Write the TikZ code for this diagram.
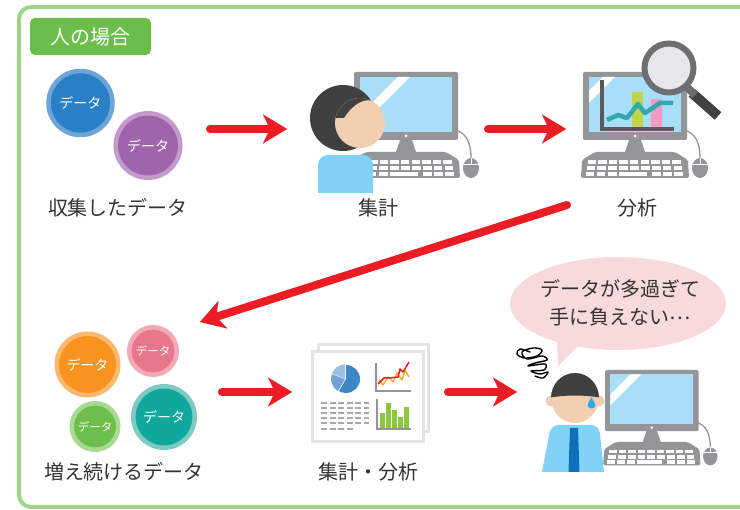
\documentclass[tikz,border=0pt]{standalone}
\usepackage{fontspec}
\setmainfont{Noto Sans CJK JP}
\usetikzlibrary{arrows.meta}

\definecolor{framegreen}{RGB}{158,212,136}
\definecolor{taggreen}{RGB}{108,190,75}
\definecolor{ink}{RGB}{51,51,51}
\definecolor{flowred}{RGB}{236,28,36}
\definecolor{pcgray}{RGB}{147,149,152}
\definecolor{screenblue}{RGB}{168,222,247}
\definecolor{hair}{RGB}{64,64,65}
\definecolor{skin}{RGB}{242,207,177}
\definecolor{shirt}{RGB}{128,211,245}
\definecolor{tieblue}{RGB}{14,112,185}
\definecolor{sweat}{RGB}{41,171,226}
\definecolor{bubble}{RGB}{248,218,220}
\definecolor{dblue}{RGB}{41,128,196}
\definecolor{dbluering}{RGB}{111,164,216}
\definecolor{dpurple}{RGB}{160,100,172}
\definecolor{dpurplering}{RGB}{194,154,203}
\definecolor{dorange}{RGB}{247,147,30}
\definecolor{dorangering}{RGB}{251,184,112}
\definecolor{dpink}{RGB}{232,119,139}
\definecolor{dpinkring}{RGB}{241,170,182}
\definecolor{dgreen}{RGB}{109,190,75}
\definecolor{dgreenring}{RGB}{168,218,146}
\definecolor{dteal}{RGB}{16,168,157}
\definecolor{dtealring}{RGB}{127,202,195}
\definecolor{axisdark}{RGB}{88,89,91}
\definecolor{barlime}{RGB}{192,212,72}
\definecolor{barpink}{RGB}{245,154,192}
\definecolor{trendteal}{RGB}{47,168,176}
\definecolor{ringgray}{RGB}{109,110,113}
\definecolor{lensfill}{RGB}{230,231,232}
\definecolor{handledark}{RGB}{65,64,66}
\definecolor{pageedge}{RGB}{227,228,229}
\definecolor{dashgray}{RGB}{167,169,172}
\definecolor{pie1}{RGB}{61,135,200}
\definecolor{pie2}{RGB}{111,163,214}
\definecolor{pie3}{RGB}{157,191,227}
\definecolor{chartred}{RGB}{237,28,36}
\definecolor{chartorange}{RGB}{247,168,27}
\definecolor{bargreen}{RGB}{141,198,63}

\tikzset{
  lbl/.style={font=\fontsize{20}{24}\selectfont, text=ink, inner sep=0pt},
  datum/.style={circle, line width=4.5pt, text=white, inner sep=0pt,
                font=\fontsize{14}{16}\selectfont},
  flow/.style={draw=flowred, line width=8pt, line cap=round,
               -{Stealth[length=24pt,width=29pt,inset=7pt,line width=0.01pt]}},
  % desktop computer: origin at the monitor's top left corner, #1 = stripe offset
  pics/desktop/.style={code={
    \draw[pcgray, line width=1.3pt] (100,58) .. controls (113,60) and (117,72) .. (117,86);
    \fill[pcgray, rounded corners=2pt] (0,0) rectangle (104,68);
    \fill[screenblue] (6,5) rectangle (98,60);
    \fill[white] (#1,5) -- ({#1+12},5) -- (6,{#1+11}) -- (6,{#1-1}) -- cycle;
    \fill[white] (52,64) circle (1.5);
    \fill[pcgray] (46,68) -- (58,68) -- (62,80) -- (42,80) -- cycle;
    \fill[pcgray, rounded corners=2pt] (12,80) -- (92,80) -- (105,88) -- (106,106)
          -- (-2,106) -- (-1,88) -- cycle;
    \foreach \i in {0,...,8} {
      \fill[white] ({4.5+\i*10.6},88.5) rectangle ++(8.4,4);
      \fill[white] ({3.5+\i*10.9},94.5) rectangle ++(8.6,4);
    }
    \foreach \i in {0,1,2,6,7,8}
      \fill[white] ({2.5+\i*11.1},100.5) rectangle ++(8.8,4);
    \fill[white] (35.8,100.5) rectangle (63.5,104.5);
    \fill[pcgray] (117,96) ellipse (8 and 10);
    \draw[white, line width=0.9pt] (109.5,92) -- (124.5,92) (117,86) -- (117,92);
  }}
}

\begin{document}
\begin{tikzpicture}[x=1pt,y=-1pt]
\clip (0,0) rectangle (740,510);
\fill[white] (0,0) rectangle (740,510);

% outer frame and its tag
\draw[framegreen, line width=4pt, rounded corners=12pt] (19,7) rectangle (790,507);
\node[fill=taggreen, rounded corners=5pt, minimum width=121pt, minimum height=37pt,
      inner sep=0pt, text=white, font=\fontsize{20}{24}\selectfont] (tag) at (90.5,36.5) {人の場合};

% collected data
\node[datum, fill=dblue, draw=dbluering, minimum size=64pt] (dA) at (80.5,103) {データ};
\node[datum, fill=dpurple, draw=dpurplering, minimum size=64.5pt] (dB) at (148,145.5) {データ};
\node[lbl] (lcollect) at (118,208) {収集したデータ};

% aggregation: desktop with a person
\pic at (354,72) {desktop=44};
\fill[shirt] (318,193) [rounded corners=10pt] -- (318,155) -- (373,155) [sharp corners] -- (373,193) -- cycle;
\fill[hair] (343,118) circle (33);
\fill[skin] (360,123) circle (25);
\begin{scope}
  \clip (360,123) circle (25);
  \fill[hair] (330,80) -- (392,80) -- (392,112)
    .. controls (383,104) and (372,98) .. (363,101)
    .. controls (355,104) and (349,110) .. (344,118) -- (330,118) -- cycle;
\end{scope}
\fill[skin] (346,124) circle (6.5);
\node[lbl] (lsum) at (378,208) {集計};

% analysis: desktop with a chart and a magnifier
\pic at (583,72) {desktop=20};
\draw[axisdark, line width=3.5pt] (602,80) -- (602,129) -- (674,129);
\fill[barlime] (632,92) rectangle (643,127);
\fill[barpink] (651,99) rectangle (662,127);
\draw[trendteal, line width=4.5pt, line join=round]
  (607,120) -- (618,115) -- (627,118) -- (638,104) -- (645,113) -- (660,103) -- (673,103);
\draw[handledark, line width=10pt] (692,93) -- (718,116);
\draw[ringgray, line width=8pt] (687,87) -- (695,95);
\draw[ringgray, line width=6pt, fill=lensfill] (669,68) circle (24.5);
\node[lbl] (lanalyse) at (637,208) {分析};

% growing data
\node[datum, fill=dorange, draw=dorangering, minimum size=61.5pt] (dC) at (87.5,364.5) {データ};
\node[datum, fill=dpink, draw=dpinkring, minimum size=47.5pt, font=\fontsize{11.5}{13}\selectfont] (dD) at (153,351) {データ};
\node[datum, fill=dgreen, draw=dgreenring, minimum size=46.5pt, font=\fontsize{11.5}{13}\selectfont] (dE) at (95,426.5) {データ};
\node[datum, fill=dteal, draw=dtealring, minimum size=61.5pt] (dF) at (164,417) {データ};
\node[lbl] (lgrow) at (124,472) {増え続けるデータ};

% report sheets
\draw[pageedge, line width=3pt, fill=white] (318,345) rectangle (428,432);
\draw[pageedge, line width=3pt, fill=white] (312,352) rectangle (423,442);
\fill[pie1] (346,379) -- ++(-90:14) arc[start angle=-90, end angle=120, radius=14] -- cycle;
\fill[pie2] (345,379) -- ++(120:14) arc[start angle=120, end angle=200, radius=14] -- cycle;
\fill[pie3] (345,378.5) -- ++(200:14) arc[start angle=200, end angle=270, radius=14] -- cycle;
\draw[pcgray, line width=1.5pt] (376,363) -- (376,391) -- (411,391);
\draw[chartorange, line width=1.3pt, line join=round]
  (379,380) -- (383,385) -- (388,377) -- (393,382) -- (397,373) -- (402,380) -- (405,370) -- (409,377);
\draw[chartred, line width=1.5pt, line join=round]
  (378,384) -- (384,378) -- (390,378) -- (398,377) -- (400,369) -- (403,372) -- (409,362);
\foreach \yy in {403,408,413,418,423}
  \draw[dashgray, line width=1.6pt, dash pattern=on 6pt off 2.5pt] (321,\yy) -- (369,\yy);
\draw[dashgray, line width=1.6pt, dash pattern=on 6pt off 2.5pt] (321,429) -- (353,429);
\draw[pcgray, line width=1.5pt] (377,399) -- (377,429) -- (411,429);
\fill[bargreen] (380,413) rectangle (384.5,428);
\fill[bargreen] (386,403) rectangle (390.5,428);
\fill[bargreen] (392,410) rectangle (396.5,428);
\fill[bargreen] (398,417) rectangle (402.5,428);
\fill[bargreen] (404,407) rectangle (408.5,428);
\node[lbl] (lreport) at (368,472) {集計・分析};

% overwhelmed person at a desktop
\pic[scale=0.9] at (605,370) {desktop=28};
\fill[bubble] (618,303.5) ellipse (108 and 46.5);
\fill[bubble] (557,340) -- (582,342) -- (558,366) -- cycle;
\node[lbl, align=center, font=\fontsize{20}{28}\selectfont] (say) at (620,303)
  {データが多過ぎて\\手に負えない\raisebox{0.28em}{…}};
\draw[black, line width=1.4pt, line join=round, line cap=round] plot[smooth, tension=0.55] coordinates
  {(530,352) (520,349) (517,354) (524,358) (537,356) (542,350) (533,348) (522,352)
   (527,359) (542,356) (547,360) (535,363) (528,366) (545,364) (544,370) (531,371)
   (540,374) (548,372) (543,378) (535,376)};
\fill[shirt] (542,472) [rounded corners=8pt] -- (551,425) -- (599,425) [sharp corners] -- (604,472) -- cycle;
\fill[tieblue] (570,428) -- (578,428) -- (579.5,472) -- (568.5,472) -- cycle;
\fill[skin] (551,401) circle (5.5);
\fill[skin] (599,401) circle (5.5);
\fill[skin] (575,398) ellipse (24 and 25);
\begin{scope}
  \clip (575,398) ellipse (24 and 25);
  \fill[hair] (540,360) -- (610,360) -- (610,400) .. controls (590,394) and (560,394) .. (540,400) -- cycle;
\end{scope}
\fill[sweat] (591.5,397) .. controls (590,401) and (587.5,403) .. (587.5,405)
  .. controls (587.5,409.5) and (595.5,409.5) .. (595.5,405)
  .. controls (595.5,403) and (593,401) .. (591.5,397) -- cycle;

% flow arrows
\coordinate (f1s) at (210,129);  \coordinate (f1e) at (287,129);
\coordinate (f2s) at (488,129);  \coordinate (f2e) at (566,129);
\coordinate (f3s) at (567,205);  \coordinate (f3e) at (200,322);
\coordinate (f4s) at (222,392);  \coordinate (f4e) at (292,392);
\coordinate (f5s) at (448,392);  \coordinate (f5e) at (517,392);
\draw[flow] (f1s) -- (f1e);
\draw[flow] (f2s) -- (f2e);
\draw[flow] (f3s) -- (f3e);
\draw[flow] (f4s) -- (f4e);
\draw[flow] (f5s) -- (f5e);
\end{tikzpicture}
\end{document}
